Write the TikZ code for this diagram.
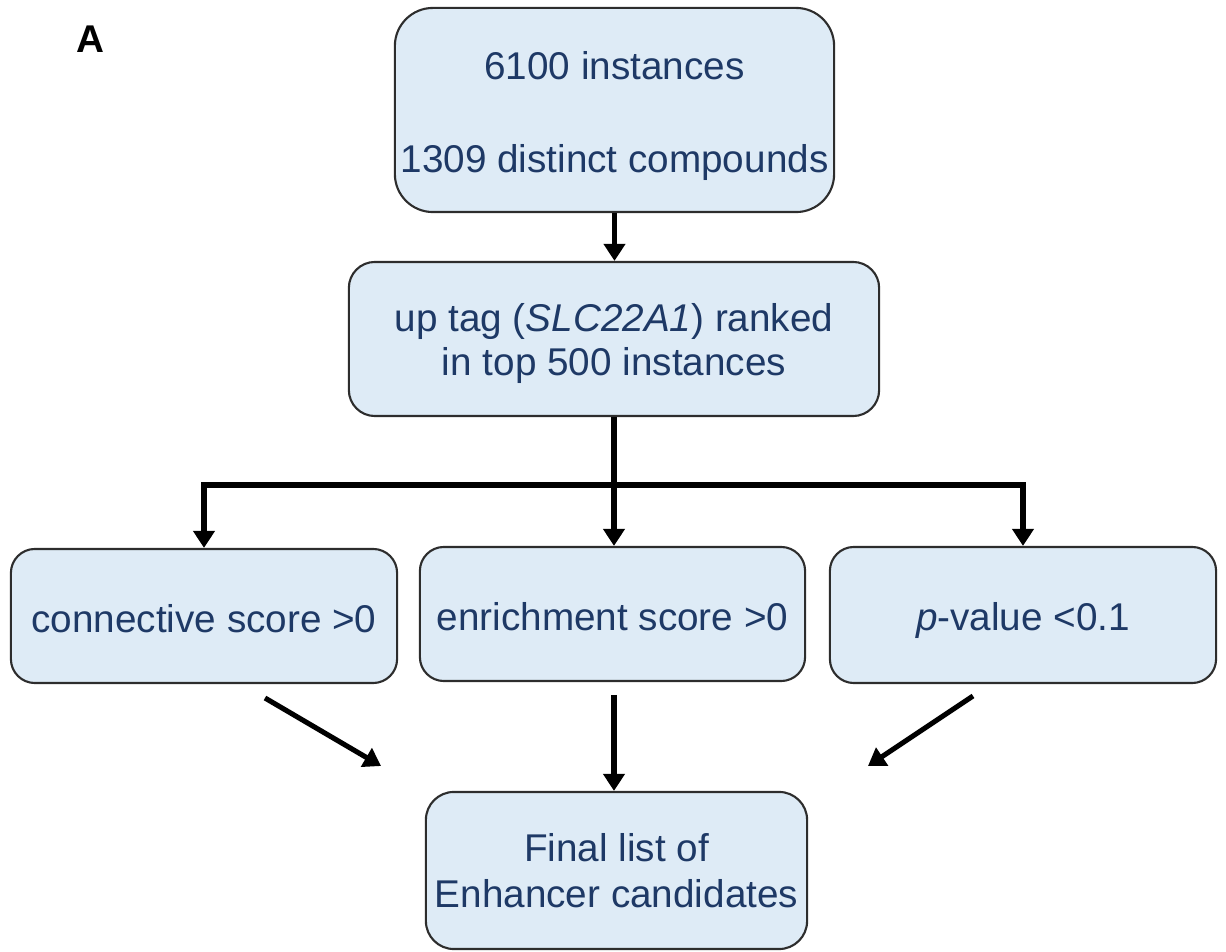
\documentclass[tikz,border=0pt]{standalone}
\usepackage{fontspec}
\setmainfont{Liberation Sans}
\usetikzlibrary{arrows.meta}
\definecolor{boxfill}{RGB}{222,235,246}
\definecolor{boxtext}{RGB}{30,57,102}
\definecolor{boxline}{RGB}{45,45,45}
% centred lines of box text, set a little below the box's middle
\newcommand{\boxlines}[2]{\raisebox{-#1}[\height][\depth]{\begin{tabular}{@{}c@{}}#2\end{tabular}}}
\tikzset{
  flowbox/.style={draw=boxline, line width=0.6pt, fill=boxfill, text=boxtext,
    align=center, inner sep=0pt, font=\fontsize{11}{12.5}\selectfont},
  link/.style={line width=1.45pt, draw=black},
  linkarrow/.style={link, -{Triangle[width=0.21cm,length=0.17cm]}},
}
\begin{document}
\begin{tikzpicture}[x=0.01cm,y=-0.01cm]
  \useasboundingbox (0,0) rectangle (1226,952);

  \node[font=\fontsize{11}{13}\selectfont\bfseries, anchor=base] (panel) at (90,53) {A};

  \node[flowbox, rounded corners=0.38cm, minimum width=4.39cm, minimum height=2.04cm]
    (pool) at (614.5,110) {\boxlines{2pt}{6100 instances\\[14pt]1309 distinct compounds}};
  \node[flowbox, rounded corners=0.26cm, minimum width=5.30cm, minimum height=1.54cm]
    (rank) at (614,339) {\boxlines{1.7pt}{up tag (\textit{SLC22A1}) ranked\\in top 500 instances}};
  \node[flowbox, rounded corners=0.24cm, minimum width=3.86cm, minimum height=1.34cm]
    (conn) at (204,616) {\boxlines{2.2pt}{connective score >0}};
  \node[flowbox, rounded corners=0.24cm, minimum width=3.85cm, minimum height=1.34cm]
    (enrich) at (612.5,614) {\boxlines{2.2pt}{enrichment score >0}};
  \node[flowbox, rounded corners=0.24cm, minimum width=3.86cm, minimum height=1.36cm]
    (pval) at (1023,615) {\boxlines{1.8pt}{\textit{p}-value <0.1}};
  \node[flowbox, rounded corners=0.28cm, minimum width=3.81cm, minimum height=1.57cm]
    (final) at (616.5,870.5) {\boxlines{1.4pt}{Final list of\\[0.5pt]Enhancer candidates}};

  % first filtering step
  \draw[linkarrow] (pool.south) -- (pool.south |- rank.north);

  % three parallel criteria
  \draw[link] (rank.south) -- (614,485) coordinate (split);
  \draw[linkarrow] (split) -| (conn.north);
  \draw[linkarrow] (split) -| (pval.north);
  \draw[linkarrow] (split) -- (split |- enrich.north);

  % criteria merge into the final list
  \coordinate (connfoot) at (265,698);
  \coordinate (connhead) at (381,766);
  \coordinate (enrichfoot) at (614,695);
  \coordinate (pvalfoot) at (973,696);
  \coordinate (pvalhead) at (868,766);
  \draw[linkarrow] (connfoot) -- (connhead);
  \draw[linkarrow] (enrichfoot) -- (enrichfoot |- final.north);
  \draw[linkarrow] (pvalfoot) -- (pvalhead);
\end{tikzpicture}
\end{document}
